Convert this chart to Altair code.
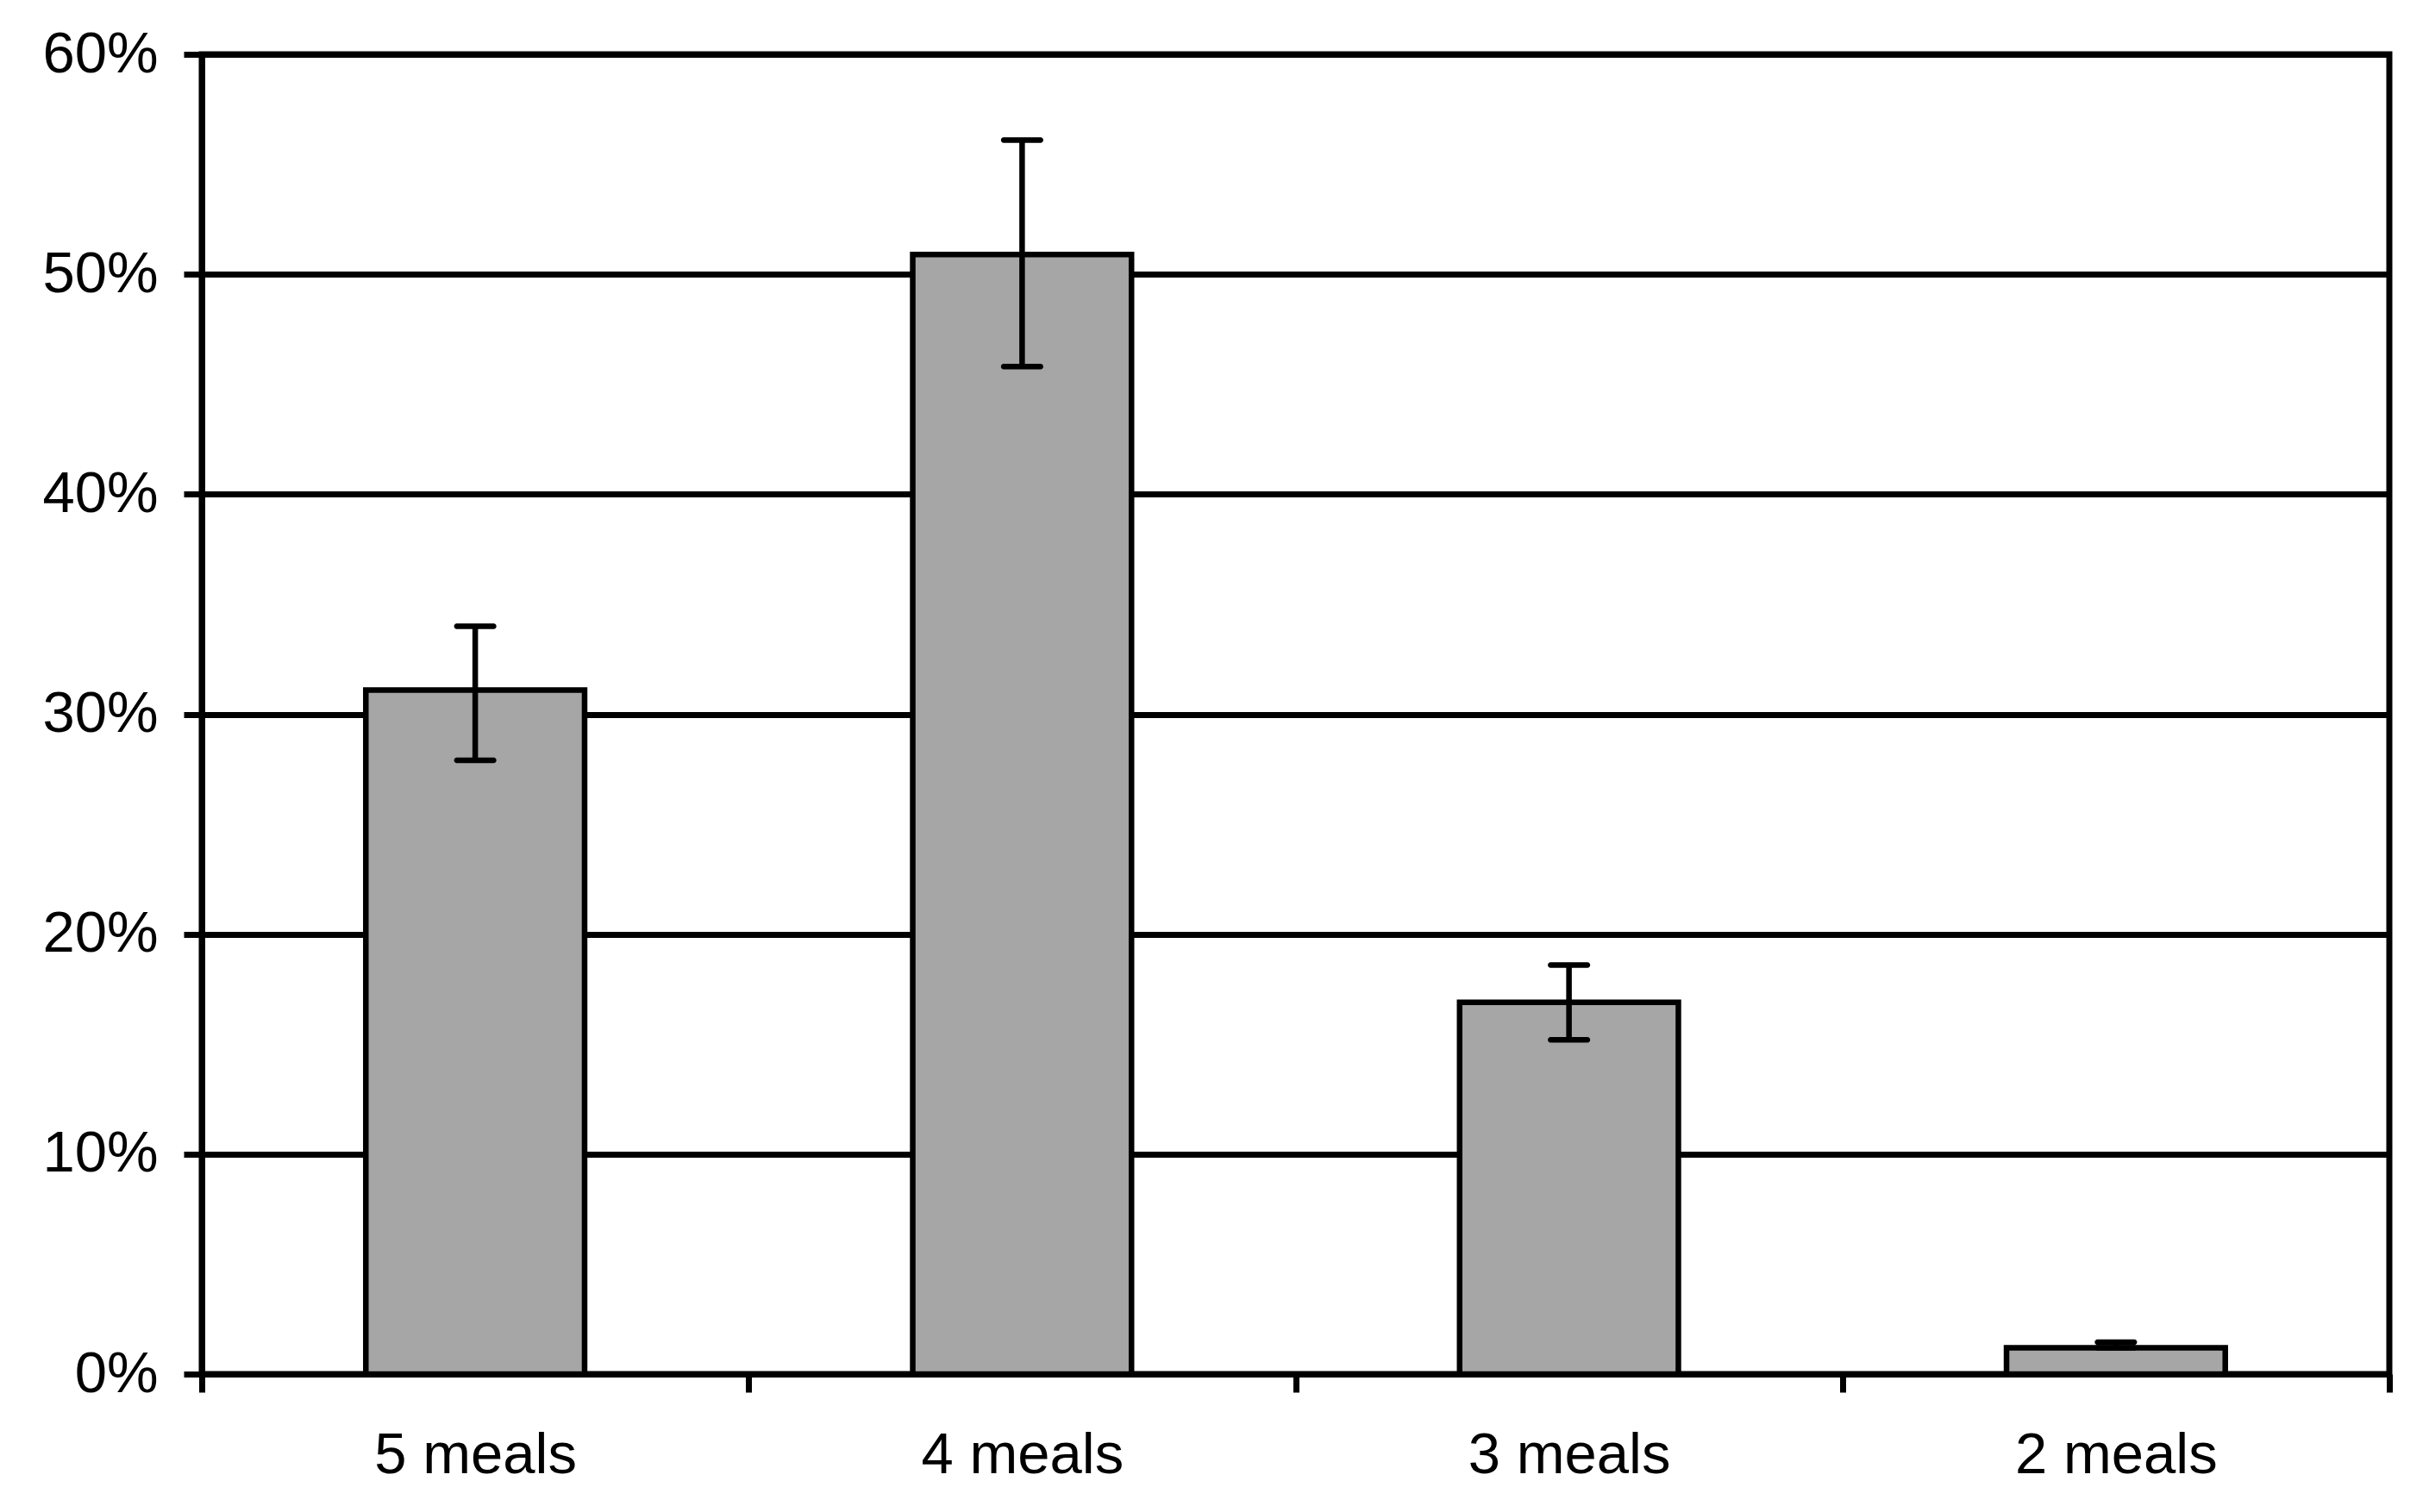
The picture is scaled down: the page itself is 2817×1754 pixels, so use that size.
import altair as alt
import pandas as pd

categories = ["5 meals", "4 meals", "3 meals", "2 meals"]
values = [31.1, 50.9, 16.9, 1.2]
err_low = [27.9, 45.8, 15.2, 1.2]
err_high = [34.0, 56.1, 18.6, 1.45]
y_ticks = [0, 10, 20, 30, 40, 50, 60]

df = pd.DataFrame({"cat": categories, "v": values, "lo": err_low, "hi": err_high})

FONT = "Liberation Sans"
LW = 7
FS = 67

x_scale = alt.Scale(paddingInner=0, paddingOuter=0)

x_enc = alt.X(
    "cat:N",
    sort=categories,
    title=None,
    scale=x_scale,
    axis=alt.Axis(
        labelAngle=0,
        labelFont=FONT,
        labelFontSize=FS,
        labelColor="black",
        labelPadding=40,
        labelLimit=0,
        tickBand="extent",
        tickSize=21,
        tickWidth=LW,
        tickColor="black",
        domainColor="black",
        domainWidth=LW,
        grid=False,
    ),
)

y_scale = alt.Scale(domain=[0, 60], nice=False, zero=True)

bars = alt.Chart(df).mark_bar(
    color="#a6a6a6", stroke="black", strokeWidth=6.5, opacity=1,
    width=alt.RelativeBandSize(0.4),
).encode(
    x=x_enc,
    y=alt.Y(
        "v:Q",
        scale=y_scale,
        title=None,
        axis=alt.Axis(
            values=y_ticks,
            labelExpr="datum.value + '%'",
            labelFont=FONT,
            labelFontSize=FS,
            labelColor="black",
            labelPadding=30,
            labelLimit=0,
            tickSize=21,
            tickWidth=LW,
            tickColor="black",
            domainColor="black",
            domainWidth=LW,
            grid=True,
            gridColor="black",
            gridWidth=LW,
            gridOpacity=1,
        ),
    ),
)

rules = alt.Chart(df).mark_rule(color="black", strokeWidth=6.5, opacity=1).encode(
    x=alt.X("cat:N", sort=categories, scale=x_scale),
    y=alt.Y("lo:Q", scale=y_scale),
    y2="hi:Q",
)

caps_hi = alt.Chart(df).mark_tick(
    color="black", thickness=6.5, size=49, orient="horizontal", opacity=1, cornerRadius=3
).encode(
    x=alt.X("cat:N", sort=categories, scale=x_scale),
    y=alt.Y("hi:Q", scale=y_scale),
)
caps_lo = alt.Chart(df).mark_tick(
    color="black", thickness=6.5, size=49, orient="horizontal", opacity=1, cornerRadius=3
).encode(
    x=alt.X("cat:N", sort=categories, scale=x_scale),
    y=alt.Y("lo:Q", scale=y_scale),
)

chart = alt.layer(bars, rules, caps_hi, caps_lo).properties(
    width=2537,
    height=1531,
    autosize=alt.AutoSizeParams(type="none"),
    padding={"left": 226, "top": 55, "right": 30, "bottom": 150},
    background="white",
).configure_view(stroke="black", strokeWidth=LW)

chart.save("out.html", embed_options={"renderer": "svg", "actions": False})
